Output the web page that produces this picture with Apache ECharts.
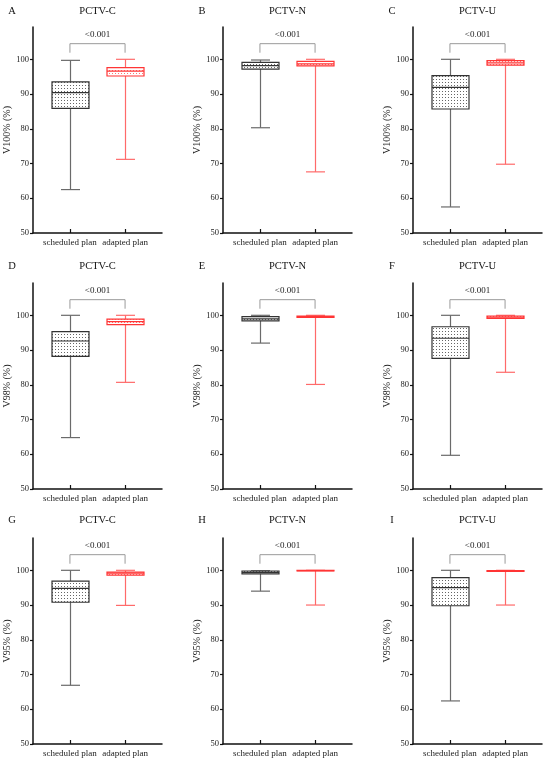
<html>
<head>
    <meta http-equiv="content-type" content="text/html; charset=utf-8">
    <title>PCTV coverage box plots</title>
    <script src="https://cdn.jsdelivr.net/npm/echarts@6.0.0/dist/echarts.min.js"></script>
    <style>
        body { margin: 0; background: #fff; }
        #chart { width: 550px; height: 761px; }
    </style>
</head>

<body>
    <div id="chart"></div>
    <script type="text/javascript">
        // data
        var categories = ['scheduled plan', 'adapted plan'];
        var panelLetters = ['A', 'B', 'C', 'D', 'E', 'F', 'G', 'H', 'I'];
        var panelTitles = ['PCTV-C', 'PCTV-N', 'PCTV-U', 'PCTV-C', 'PCTV-N', 'PCTV-U', 'PCTV-C', 'PCTV-N', 'PCTV-U'];
        var yAxisNames = ['V100% (%)', 'V98% (%)', 'V95% (%)'];
        var yTicks = [50, 60, 70, 80, 90, 100];
        // [min, Q1, median, Q3, max]
        var scheduled = [
            [62.5, 85.9, 90.4, 93.5, 99.7],
            [80.3, 97.2, 98.2, 99.1, 99.8],
            [57.5, 85.7, 91.9, 95.3, 100],
            [64.8, 88.2, 92.6, 95.3, 100],
            [92.0, 98.4, 99.0, 99.6, 100],
            [59.7, 87.6, 93.4, 96.7, 100],
            [66.9, 90.8, 94.8, 96.9, 100],
            [94.0, 99.0, 99.4, 99.8, 99.9],
            [62.4, 89.8, 95.0, 97.9, 100]
        ];
        var adapted = [
            [71.2, 95.2, 96.6, 97.6, 100],
            [67.6, 98.1, 98.7, 99.4, 100],
            [69.8, 98.3, 99.0, 99.6, 100],
            [80.7, 97.3, 98.2, 98.9, 100],
            [80.1, 99.4, 99.6, 99.8, 100],
            [83.6, 99.1, 99.5, 99.8, 100],
            [89.9, 98.6, 99.2, 99.5, 100],
            [90.0, 99.8, 99.9, 100, 100],
            [90.0, 99.7, 99.8, 99.9, 100]
        ];
        var pValue = '<0.001';
        var bracketTop = 104.5;
        var bracketFoot = 101.9;
        var pLabelAt = 107.2;

        // layout
        var FONT = '"Liberation Serif", "Times New Roman", serif';
        var colLeft = [33, 223, 413];
        var rowTop = [27, 283, 538];
        var titleY = [11, 266, 520];
        var plotW = 129, plotH = 206;

        function dotPattern(color) {
            var c = document.createElement('canvas');
            c.width = 3; c.height = 3;
            var g = c.getContext('2d');
            g.fillStyle = color;
            g.fillRect(1, 1, 1, 1);
            return { image: c, repeat: 'repeat' };
        }

        function boxRenderer(stroke, whisker, pattern) {
            return function (params, api) {
                var x = api.value(0);
                var lo = api.coord([x, api.value(1)]);
                var q1 = api.coord([x, api.value(2)]);
                var md = api.coord([x, api.value(3)]);
                var q3 = api.coord([x, api.value(4)]);
                var hi = api.coord([x, api.value(5)]);
                var cx = Math.round(lo[0]) + 0.5;
                var bw = 18.5, cw = 9.5;
                var ws = { stroke: whisker, lineWidth: 1.2 };
                var bs = { stroke: stroke, lineWidth: 1.2 };
                return {
                    type: 'group',
                    children: [
                        { type: 'line', shape: { x1: cx, y1: hi[1], x2: cx, y2: q3[1] }, style: ws },
                        { type: 'line', shape: { x1: cx, y1: q1[1], x2: cx, y2: lo[1] }, style: ws },
                        { type: 'line', shape: { x1: cx - cw, y1: hi[1], x2: cx + cw, y2: hi[1] }, style: ws },
                        { type: 'line', shape: { x1: cx - cw, y1: lo[1], x2: cx + cw, y2: lo[1] }, style: ws },
                        { type: 'rect', shape: { x: cx - bw, y: q3[1], width: bw * 2, height: q1[1] - q3[1] },
                          style: { fill: pattern, stroke: stroke, lineWidth: 1.2 } },
                        { type: 'line', shape: { x1: cx - bw, y1: md[1], x2: cx + bw, y2: md[1] }, style: bs }
                    ]
                };
            };
        }

        function renderBracket(params, api) {
            var a = api.coord([api.value(0), bracketFoot]);
            var b = api.coord([api.value(0), bracketTop]);
            var c = api.coord([api.value(1), bracketTop]);
            var d = api.coord([api.value(1), bracketFoot]);
            var t = api.coord([(api.value(0) + api.value(1)) / 2, pLabelAt]);
            return {
                type: 'group',
                children: [
                    { type: 'polyline', shape: { points: [a, b, c, d] },
                      style: { stroke: '#9a9a9a', lineWidth: 1, fill: null } },
                    { type: 'text', x: t[0], y: t[1],
                      style: { text: pValue, align: 'center', verticalAlign: 'middle',
                               fontSize: 9, fontFamily: FONT, fill: '#222' } }
                ]
            };
        }

        var chart = echarts.init(document.getElementById('chart'), null, { renderer: 'canvas' });
        var grids = [], xAxes = [], yAxes = [], series = [], graphics = [];
        var schedDots = dotPattern('#666');
        var adaptDots = dotPattern('#ff7070');

        for (var i = 0; i < 9; i++) {
            var col = i % 3, row = Math.floor(i / 3);
            grids.push({ left: colLeft[col], top: rowTop[row], width: plotW, height: plotH });
            xAxes.push({
                type: 'value', gridIndex: i, min: -0.67, max: 1.67,
                splitLine: { show: false },
                axisLine: { onZero: false, lineStyle: { color: '#111', width: 1.5 } },
                axisTick: { customValues: [0, 1], inside: true, length: 4, lineStyle: { color: '#111', width: 1.2 } },
                axisLabel: {
                    customValues: [0, 1], margin: 5, color: '#222', fontSize: 9, fontFamily: FONT,
                    formatter: function (v) { return categories[Math.round(v)]; }
                }
            });
            yAxes.push({
                type: 'value', gridIndex: i, min: 50, max: 109.3,
                name: yAxisNames[row], nameLocation: 'middle', nameGap: 21,
                nameTextStyle: { color: '#222', fontSize: 10, fontFamily: FONT },
                splitLine: { show: false },
                axisLine: { show: true, onZero: false, lineStyle: { color: '#111', width: 1.5 } },
                axisTick: { customValues: yTicks, length: 3, lineStyle: { color: '#111', width: 1.2 } },
                axisLabel: { customValues: yTicks, margin: 4, color: '#222', fontSize: 8.5, fontFamily: FONT }
            });
            series.push({
                type: 'custom', xAxisIndex: i, yAxisIndex: i, silent: true,
                renderItem: boxRenderer('#333', '#6a6a6a', schedDots),
                encode: { x: 0, y: [1, 2, 3, 4, 5] },
                data: [[0].concat(scheduled[i])]
            });
            series.push({
                type: 'custom', xAxisIndex: i, yAxisIndex: i, silent: true,
                renderItem: boxRenderer('#ff3535', '#ff6a6a', adaptDots),
                encode: { x: 0, y: [1, 2, 3, 4, 5] },
                data: [[1].concat(adapted[i])]
            });
            series.push({
                type: 'custom', xAxisIndex: i, yAxisIndex: i, silent: true,
                renderItem: renderBracket,
                encode: { x: [0, 1] },
                data: [[0, 1]]
            });
            graphics.push({
                type: 'text', x: colLeft[col] - 21, y: titleY[row],
                style: { text: panelLetters[i], align: 'center', verticalAlign: 'middle',
                         fontSize: 10.5, fontFamily: FONT, fill: '#111' }
            });
            graphics.push({
                type: 'text', x: colLeft[col] + plotW / 2, y: titleY[row],
                style: { text: panelTitles[i], align: 'center', verticalAlign: 'middle',
                         fontSize: 10.5, fontFamily: FONT, fill: '#111' }
            });
        }

        chart.setOption({
            backgroundColor: '#fff',
            animation: false,
            grid: grids,
            xAxis: xAxes,
            yAxis: yAxes,
            series: series,
            graphic: graphics
        });
    </script>
</body>
</html>
